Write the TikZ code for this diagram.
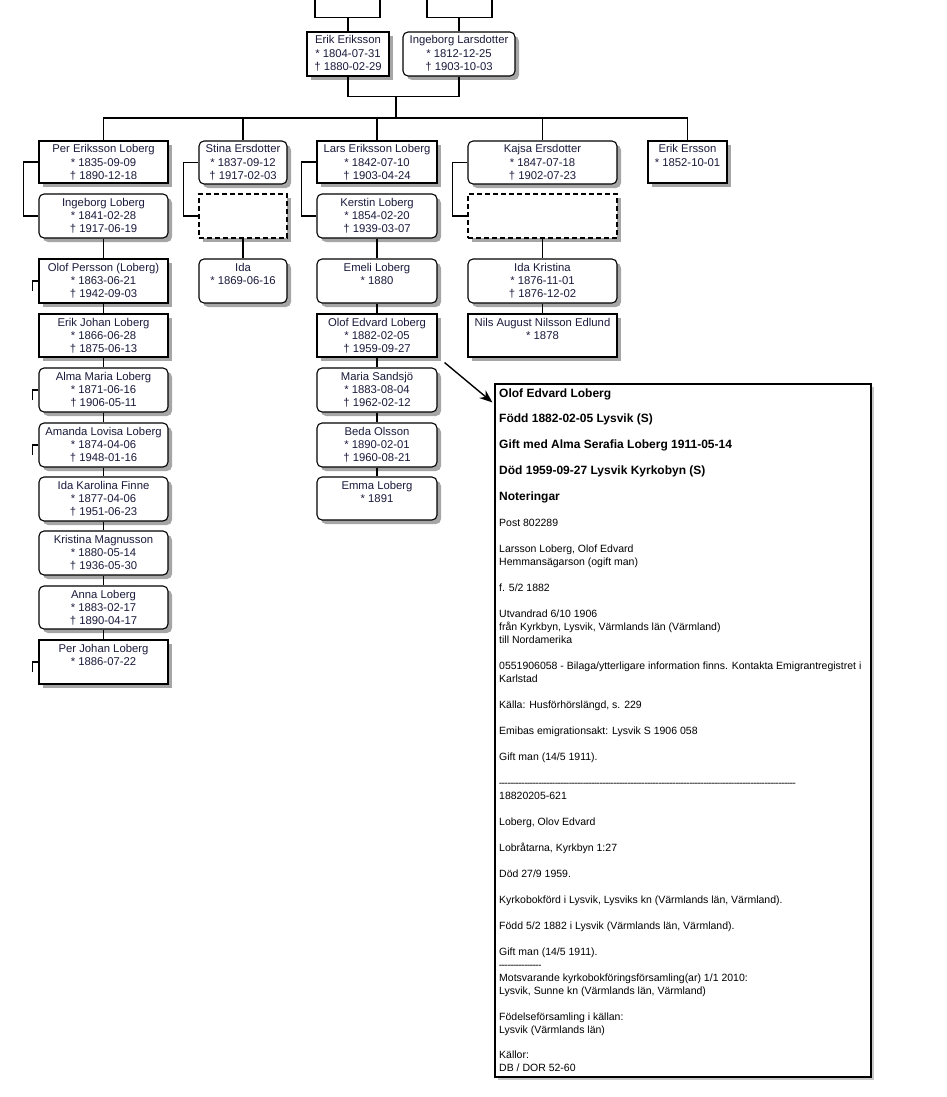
\documentclass[tikz,border=0pt]{standalone}
\usepackage{fontspec}
\setmainfont{Liberation Sans}
\usetikzlibrary{shadows,arrows.meta}
\definecolor{tc}{HTML}{1A1A3C}
\definecolor{shc}{HTML}{A6A6A6}
\newcommand\Pn[7]{\node[#1] (#2) at ({(#3+#5)/2},{(#4+#6)/2}) {\parbox[c][\dimexpr #6pt-#4pt\relax][t]{\dimexpr #5pt-#3pt\relax}{\centering\rule{0pt}{12pt}#7}};}
\newcommand\nb[1]{{\bfseries\fontsize{12}{12.98}\selectfont #1}}
\newcommand\dline[1]{\leavevmode\hbox to #1{\leaders\hbox{\kern-0.35pt-\kern-0.35pt}\hfill}}
\newcommand\nl{\\{}}
\begin{document}
\begin{tikzpicture}[x=1pt,y=-1pt,
  sq/.style={draw=black, line width=1.1pt, fill=white, inner sep=0pt, text=tc,
    font=\fontsize{11.3}{13.2}\selectfont,
    drop shadow={shadow xshift=4pt, shadow yshift=-4pt, fill=shc, opacity=1}},
  rd/.style={sq, rounded corners=5pt},
  dsh/.style={sq, dash pattern=on 5pt off 3pt},
  conn/.style={line width=1.1pt, draw=black},
  arr/.style={line width=1.4pt, -{Stealth[length=13pt,width=10pt]}},
  notebox/.style={draw=black, line width=1.1pt, fill=white, inner sep=0pt,
    drop shadow={shadow xshift=3pt, shadow yshift=-3pt, fill=black!22, opacity=1}}]
\useasboundingbox (0,0) rectangle (947,1097);

% parents
\Pn{sq}{erik}{307}{32}{389}{76}{Erik Eriksson\nl* 1804-07-31\nl† 1880-02-29}
\Pn{rd}{ingl}{403}{32}{515}{76}{Ingeborg Larsdotter\nl* 1812-12-25\nl† 1903-10-03}

% children row
\Pn{sq}{per}{39}{141}{168}{183}{Per Eriksson Loberg\nl* 1835-09-09\nl† 1890-12-18}
\Pn{rd}{stina}{199}{141}{287}{184}{Stina Ersdotter\nl* 1837-09-12\nl† 1917-02-03}
\Pn{sq}{lars}{317}{141}{437}{183}{Lars Eriksson Loberg\nl* 1842-07-10\nl† 1903-04-24}
\Pn{rd}{kajsa}{468}{141}{617}{184}{Kajsa Ersdotter\nl* 1847-07-18\nl† 1902-07-23}
\Pn{sq}{eriker}{648}{141}{727}{183}{Erik Ersson\nl* 1852-10-01}

% spouses
\Pn{rd}{ingb}{39}{194}{168}{238}{Ingeborg Loberg\nl* 1841-02-28\nl† 1917-06-19}
\Pn{dsh}{dash1}{199}{194}{287}{238}{}
\Pn{rd}{kerstin}{317}{194}{437}{238}{Kerstin Loberg\nl* 1854-02-20\nl† 1939-03-07}
\Pn{dsh}{dash2}{468}{194}{617}{238}{}

% column 1 grandchildren
\Pn{sq}{olofp}{39}{259}{168}{303}{Olof Persson (Loberg)\nl* 1863-06-21\nl† 1942-09-03}
\Pn{sq}{erikj}{39}{314}{168}{357}{Erik Johan Loberg\nl* 1866-06-28\nl† 1875-06-13}
\Pn{rd}{alma}{39}{368}{168}{412}{Alma Maria Loberg\nl* 1871-06-16\nl† 1906-05-11}
\Pn{rd}{amanda}{39}{423}{168}{467}{Amanda Lovisa Loberg\nl* 1874-04-06\nl† 1948-01-16}
\Pn{rd}{idakf}{39}{477}{168}{521}{Ida Karolina Finne\nl* 1877-04-06\nl† 1951-06-23}
\Pn{rd}{kristina}{39}{531}{168}{575}{Kristina Magnusson\nl* 1880-05-14\nl† 1936-05-30}
\Pn{rd}{anna}{39}{586}{168}{629}{Anna Loberg\nl* 1883-02-17\nl† 1890-04-17}
\Pn{sq}{perj}{39}{640}{168}{684}{Per Johan Loberg\nl* 1886-07-22}

% column 2
\Pn{rd}{ida}{199}{259}{287}{303}{Ida\nl* 1869-06-16}

% column 3
\Pn{rd}{emeli}{317}{259}{437}{303}{Emeli Loberg\nl* 1880}
\Pn{sq}{olofe}{317}{314}{437}{357}{Olof Edvard Loberg\nl* 1882-02-05\nl† 1959-09-27}
\Pn{rd}{maria}{317}{368}{437}{412}{Maria Sandsjö\nl* 1883-08-04\nl† 1962-02-12}
\Pn{rd}{beda}{317}{423}{437}{467}{Beda Olsson\nl* 1890-02-01\nl† 1960-08-21}
\Pn{rd}{emma}{317}{477}{437}{520}{Emma Loberg\nl* 1891}

% column 4
\Pn{rd}{idakr}{468}{259}{617}{303}{Ida Kristina\nl* 1876-11-01\nl† 1876-12-02}
\Pn{sq}{nils}{468}{314}{617}{357}{Nils August Nilsson Edlund\nl* 1878}

% note box
\node[notebox, minimum width=376pt, minimum height=693pt] (note) at (683,730.5) {};
\node[anchor=base west, inner sep=0pt, text=black] (notetext) at (499,397) {\parbox[t]{430pt}{\raggedright\fontsize{10.5}{12.98}\selectfont
\nb{Olof Edvard Loberg}\\[12.98pt]
\nb{Född 1882-02-05 Lysvik (S)}\\[12.98pt]
\nb{Gift med Alma Serafia Loberg 1911-05-14}\\[12.98pt]
\nb{Död 1959-09-27 Lysvik Kyrkobyn (S)}\\[12.98pt]
\nb{Noteringar}\\[12.98pt]
Post 802289\\[12.98pt]
Larsson Loberg, Olof Edvard\\
Hemmansägarson (ogift man)\\[12.98pt]
f. 5/2 1882\\[12.98pt]
Utvandrad 6/10 1906\\
från Kyrkbyn, Lysvik, Värmlands län (Värmland)\\
till Nordamerika\\[12.98pt]
0551906058 - Bilaga/ytterligare information finns. Kontakta Emigrantregistret i\\
Karlstad\\[12.98pt]
Källa: Husförhörslängd, s. 229\\[12.98pt]
Emibas emigrationsakt: Lysvik S 1906 058\\[12.98pt]
Gift man (14/5 1911).\\[12.98pt]
\dline{297pt}\\
18820205-621\\[12.98pt]
Loberg, Olov Edvard\\[12.98pt]
Lobråtarna, Kyrkbyn 1:27\\[12.98pt]
Död 27/9 1959.\\[12.98pt]
Kyrkobokförd i Lysvik, Lysviks kn (Värmlands län, Värmland).\\[12.98pt]
Född 5/2 1882 i Lysvik (Värmlands län, Värmland).\\[12.98pt]
Gift man (14/5 1911).\\
\dline{42pt}\\
Motsvarande kyrkobokföringsförsamling(ar) 1/1 2010:\\
Lysvik, Sunne kn (Värmlands län, Värmland)\\[12.98pt]
Födelseförsamling i källan:\\
Lysvik (Värmlands län)\\[12.98pt]
Källor:\\
DB / DOR 52-60}};

% connectors above parents
\coordinate (ef1) at (315,0); \coordinate (ef2) at (380,0);
\coordinate (if1) at (427,0); \coordinate (if2) at (492,0);
\draw[conn] (erik.north) -- ++(0,-13.7) coordinate (etop);
\draw[conn] (ef1) |- (etop) -| (ef2);
\draw[conn] (ingl.north) -- ++(0,-13.7) coordinate (itop);
\draw[conn] (if1) |- (itop) -| (if2);

% parents to children
\coordinate (pj) at (396,96.7);
\coordinate (bus) at (396,118);
\draw[conn] (erik.south) |- (pj) -| (ingl.south);
\draw[conn] (pj) -- (bus);
\draw[conn] (per.north) |- (bus) -| (eriker.north);
\draw[conn] (stina.north) -- (stina.north |- bus);
\draw[conn] (lars.north) -- (lars.north |- bus);
\draw[conn] (kajsa.north) -- (kajsa.north |- bus);

% marriage brackets
\draw[conn] (per.west) -- ++(-15,0) |- (ingb.west);
\draw[conn] (stina.west) -- ++(-15,0) |- (dash1.west);
\draw[conn] (lars.west) -- ++(-15,0) |- (kerstin.west);
\draw[conn] (kajsa.west) -- ++(-15,0) |- (dash2.west);

% descent lines
\draw[conn] (ingb.south) -- (olofp.north);
\draw[conn] (olofp.south) -- (erikj.north);
\draw[conn] (erikj.south) -- (alma.north);
\draw[conn] (alma.south) -- (amanda.north);
\draw[conn] (amanda.south) -- (idakf.north);
\draw[conn] (idakf.south) -- (kristina.north);
\draw[conn] (kristina.south) -- (anna.north);
\draw[conn] (anna.south) -- (perj.north);
\draw[conn] (dash1.south) -- (ida.north);
\draw[conn] (kerstin.south) -- (emeli.north);
\draw[conn] (emeli.south) -- (olofe.north);
\draw[conn] (olofe.south) -- (maria.north);
\draw[conn] (maria.south) -- (beda.north);
\draw[conn] (beda.south) -- (emma.north);
\draw[conn] (dash2.south) -- (idakr.north);
\draw[conn] (idakr.south) -- (nils.north);

% spouse ticks
\draw[conn] (olofp.west) -- ++(-6,0) -- ++(0,10);
\draw[conn] (alma.west) -- ++(-6,0) -- ++(0,10);
\draw[conn] (amanda.west) -- ++(-6,0) -- ++(0,10);
\draw[conn] (perj.west) -- ++(-6,0) -- ++(0,10);

% arrow to note
\draw[arr] ([shift={(7,5)}]olofe.south east) -- ([shift={(-2,19)}]note.north west);
\end{tikzpicture}
\end{document}
